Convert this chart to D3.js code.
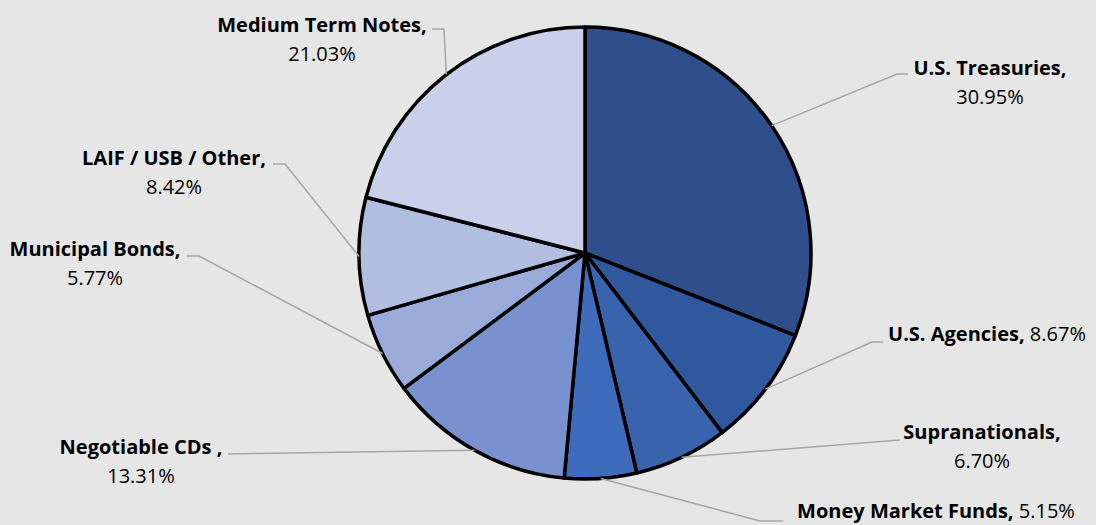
<!DOCTYPE html>
<html><head><meta charset="utf-8">
<script src="https://cdn.jsdelivr.net/npm/d3@7"></script>
<style>
html,body{margin:0;padding:0;background:#e6e6e6;}
svg{display:block;}
text{font-family:"Open Sans",Lato,sans-serif;font-size:20px;fill:#000;}
</style></head><body>
<svg id="c" width="1096" height="525"></svg>
<script>
const categories = ["U.S. Treasuries","U.S. Agencies","Supranationals","Money Market Funds","Negotiable CDs ","Municipal Bonds","LAIF / USB / Other","Medium Term Notes"];
const values = [30.95, 8.67, 6.70, 5.15, 13.31, 5.77, 8.42, 21.03];
const colors = ["#2e4f8b","#30589f","#3a63ad","#3f6bbd","#7991cf","#9aabd9","#b2bee0","#cbd0ea"];
// label layout: anchor x, first line baseline y, single-line flag, leader elbow points
const labelLayout = [
  {x:990, y:75, one:false, ex:[[908,74],[897,74]]},
  {x:987, y:341, one:true, ex:[[883,342],[872,342]]},
  {x:982, y:439, one:false, ex:[[900,440]]},
  {x:936, y:518, one:true, ex:[[783,521],[760,521]]},
  {x:141, y:454, one:false, ex:[[228,454]]},
  {x:95, y:256, one:false, ex:[[187,256],[199,256]]},
  {x:174, y:165, one:false, ex:[[273,164],[285,164]]},
  {x:322, y:32, one:false, ex:[[432,29],[444,29]]}
];

const svg = d3.select("#c");
const cx = 585, cy = 253, R = 226;
const data = categories.map((c,i)=>({name:c, value:values[i], color:colors[i], lay:labelLayout[i]}));
const pie = d3.pie().value(d=>d.value).sort(null);
const arcs = pie(data);
const arc = d3.arc().innerRadius(0).outerRadius(R);
const g = svg.append("g").attr("transform",`translate(${cx},${cy})`);
g.selectAll("path").data(arcs).enter().append("path")
  .attr("d",arc).attr("fill",d=>d.data.color)
  .attr("stroke","#000").attr("stroke-width",3.5).attr("stroke-linejoin","round");

// leader lines
const line = d3.line();
arcs.forEach(a=>{
  const m = (a.startAngle+a.endAngle)/2;
  const px = cx + R*Math.sin(m), py = cy - R*Math.cos(m);
  const pts = a.data.lay.ex.concat([[px,py]]);
  svg.append("path").attr("d",line(pts)).attr("fill","none")
    .attr("stroke","#a6a6a6").attr("stroke-width",1.5);
});

// labels
arcs.forEach(a=>{
  const L = a.data.lay;
  const pct = a.data.value.toFixed(2)+"%";
  if(L.one){
    const t = svg.append("text").attr("x",L.x).attr("y",L.y).attr("text-anchor","middle");
    t.append("tspan").attr("font-weight","bold").text(a.data.name+",");
    t.append("tspan").text(" "+pct);
  } else {
    svg.append("text").attr("x",L.x).attr("y",L.y).attr("text-anchor","middle")
      .attr("font-weight","bold").text(a.data.name+",");
    svg.append("text").attr("x",L.x).attr("y",L.y+29).attr("text-anchor","middle").text(pct);
  }
});
</script>
</body></html>
